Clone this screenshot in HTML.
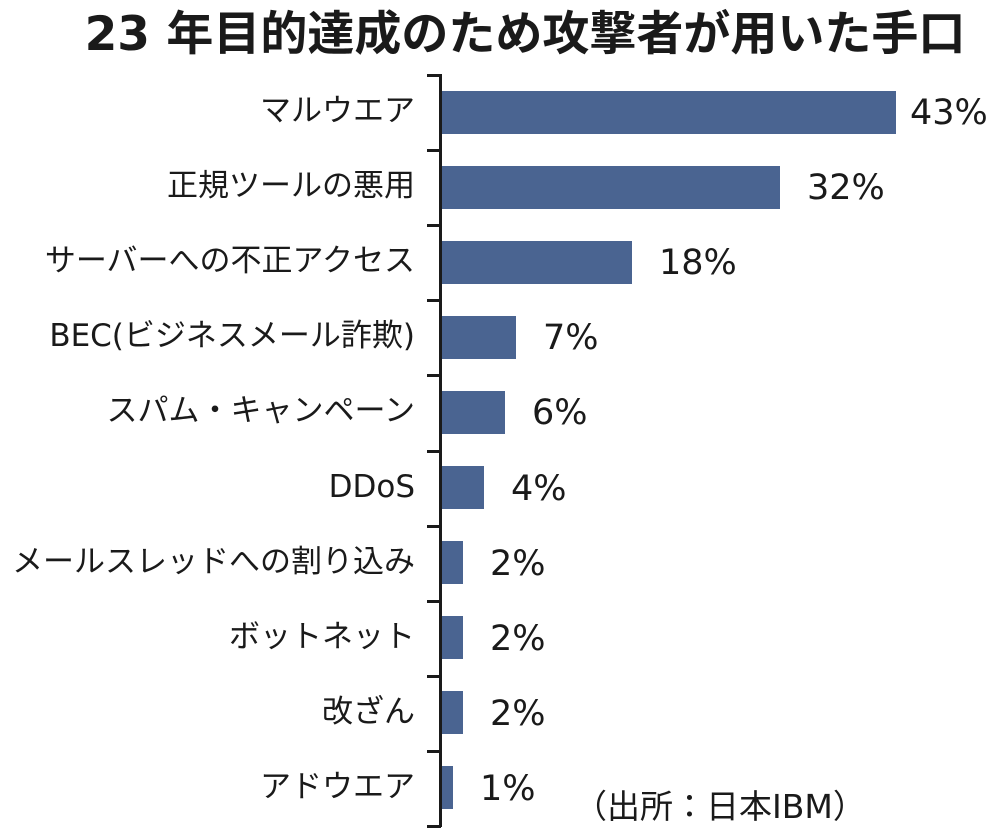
<!DOCTYPE html>
<html><head><meta charset="utf-8"><style>
body{margin:0;width:1000px;height:831px;background:#fff;overflow:hidden;position:relative;font-family:"DejaVu Sans","Noto Sans CJK JP",sans-serif;color:#1a1a1a}
.t{position:absolute;left:0;width:1000px;top:5px;text-align:center;font-size:47px;font-weight:bold;padding-left:50px;box-sizing:border-box;white-space:nowrap;line-height:60px}
.l{position:absolute;right:585px;font-size:31px;white-space:nowrap;line-height:44px}
.v{position:absolute;font-size:35px;line-height:44px}
.b{position:absolute;left:442px;height:43px;background:#4a6491}
.ax{position:absolute;left:439px;top:74px;width:3px;height:753px;background:#1a1a1a}
.tk{position:absolute;left:427px;width:14px;height:3px;background:#1a1a1a}
</style></head><body>
<div class="t">23 年目的達成のため攻撃者が用いた手口</div>
<div class="ax"></div>
<div id="c"></div>
<div class="v" style="left:574px;top:785px;font-size:33px">（出所：日本IBM）</div>
<script>
var d=[["マルウエア",43],["正規ツールの悪用",32],["サーバーへの不正アクセス",18],["BEC(ビジネスメール詐欺)",7],["スパム・キャンペーン",6],["DDoS",4],["メールスレッドへの割り込み",2],["ボットネット",2],["改ざん",2],["アドウエア",1]];
var h="";
for(var i=0;i<=10;i++)h+='<div class="tk" style="top:'+(74+i*75.1)+'px"></div>';
d.forEach(function(r,i){var c=112+i*75.1,w=Math.round(r[1]*10.55);
h+='<div class="l" style="top:'+(c-23)+'px">'+r[0]+'</div>';
h+='<div class="b" style="top:'+(c-21.5)+'px;width:'+w+'px"></div>';
h+='<div class="v" style="top:'+(c-21)+'px;left:'+(442+w+(i==0?14:27))+'px">'+r[1]+'%</div>';});
document.getElementById('c').innerHTML=h;
</script>
</body></html>
